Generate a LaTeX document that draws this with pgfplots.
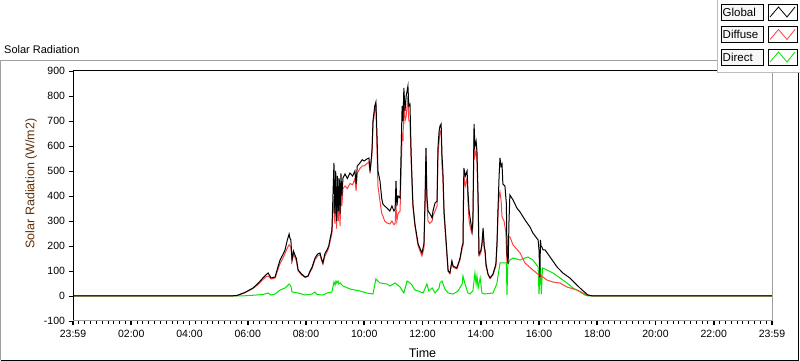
\documentclass[border=0pt]{standalone}
\usepackage{fontspec}
\setmainfont{Liberation Sans}
\usepackage{pgfplots}
\pgfplotsset{compat=1.18}
\definecolor{glob}{RGB}{0,0,0}
\definecolor{diff}{RGB}{255,64,64}
\definecolor{dirc}{RGB}{0,230,0}
\definecolor{framegray}{RGB}{160,160,160}
\definecolor{ylab}{RGB}{96,48,10}
\begin{document}
\begin{tikzpicture}[x=1pt,y=1pt]
\path[use as bounding box] (0,0) rectangle (800,361);
% outer frame
\draw[framegray, line width=1pt] (0.5,0.5) -- (0.5,300) -- (717,300);
\draw[black, line width=1pt] (0.5,0.5) -- (798.5,0.5) -- (798.5,289);
\node[anchor=west, font=\fontsize{11}{13}\selectfont, inner sep=0pt] at (4,311) {Solar Radiation};
\begin{axis}[
  at={(73pt,40pt)}, anchor=south west, scale only axis,
  width=699pt, height=250pt,
  xmin=0, xmax=24, ymin=-100, ymax=900,
  xtick={0,2,4,6,8,10,12,14,16,18,20,22,24},
  xticklabels={23:59,02:00,04:00,06:00,08:00,10:00,12:00,14:00,16:00,18:00,20:00,22:00,23:59},
  minor x tick num=9,
  ytick={-100,0,100,200,300,400,500,600,700,800,900},
  axis line style={draw=none},
  xtick pos=left, ytick pos=left,
  tick align=outside,
  major tick length=4.5pt, minor tick length=3pt,
  major x tick style={line width=1.6pt, black},
  minor x tick style={line width=0.9pt, black},
  major y tick style={line width=0.9pt, black},
  /pgf/number format/assume math mode=true,
  tick label style={font=\fontsize{10.5}{12}\selectfont, black},
  xticklabel style={yshift=-1.5pt},
  xlabel={Time}, ylabel={Solar Radiation (W/m2)},
  xlabel style={font=\fontsize{12.5}{14}\selectfont, at={(axis description cs:0.5,-0.128)}, anchor=center},
  ylabel style={font=\fontsize{12.5}{14}\selectfont, color=ylab, at={(axis description cs:-0.060,0.55)}, anchor=center},
  clip=false,
]
\addplot[dirc, line width=1pt] table {
0 0
5.63 0
5.90 1
6.18 3
6.52 6
6.70 12
6.80 4
6.94 8
7.11 24
7.28 32
7.42 48
7.48 40
7.52 16
7.73 12
7.97 4
8.21 8
8.31 16
8.38 6
8.58 4
8.72 12
8.89 16
8.96 56
9.00 44
9.03 60
9.06 52
9.10 60
9.13 48
9.17 52
9.27 40
9.51 28
9.85 20
10.09 12
10.30 8
10.40 68
10.54 52
10.78 48
10.88 40
11.06 52
11.23 36
11.36 12
11.47 60
11.61 48
11.74 24
11.85 20
12.02 12
12.08 28
12.15 48
12.22 20
12.33 32
12.43 12
12.57 32
12.60 52
12.67 60
12.77 28
12.88 12
13.05 8
13.22 20
13.36 48
13.39 80
13.46 48
13.56 12
13.63 8
13.73 20
13.80 92
13.84 48
13.87 80
13.91 32
13.98 72
14.04 12
14.15 8
14.42 12
14.55 48
14.62 100
14.66 132
14.76 132
14.88 132
14.90 4
14.93 128
15.00 144
15.11 152
15.35 144
15.52 152
15.62 156
15.79 144
15.97 116
16.00 8
16.05 112
16.08 8
16.12 112
16.27 104
16.48 92
16.72 72
16.96 52
17.17 32
17.41 16
17.58 4
17.68 0
24 0
};
\addplot[diff, line width=1pt] table {
0 0
5.39 0
5.63 2
5.90 13
6.18 30
6.35 46
6.52 66
6.62 76
6.70 80
6.80 68
6.94 72
7.02 100
7.11 130
7.20 150
7.28 170
7.35 190
7.42 205
7.48 195
7.52 140
7.57 165
7.62 155
7.67 140
7.73 100
7.85 84
7.97 74
8.07 78
8.14 96
8.21 110
8.31 145
8.40 160
8.48 165
8.53 144
8.58 128
8.65 160
8.72 176
8.78 192
8.82 215
8.89 250
8.93 340
8.96 400
8.99 290
9.02 440
9.05 270
9.08 420
9.11 300
9.14 400
9.17 280
9.20 420
9.23 360
9.27 430
9.34 440
9.42 430
9.51 450
9.60 445
9.68 470
9.72 420
9.76 490
9.85 510
9.93 520
10.00 520
10.09 530
10.16 535
10.20 490
10.25 550
10.27 580
10.30 690
10.36 740
10.40 760
10.44 580
10.47 440
10.54 380
10.60 330
10.64 320
10.70 300
10.78 292
10.88 288
10.95 300
11.02 285
11.06 290
11.09 360
11.12 300
11.16 330
11.23 340
11.27 520
11.30 640
11.33 620
11.36 780
11.40 700
11.44 720
11.47 760
11.50 800
11.53 700
11.57 700
11.61 540
11.67 360
11.74 280
11.85 200
11.98 160
12.05 190
12.09 380
12.12 560
12.15 380
12.19 300
12.25 290
12.33 300
12.36 320
12.43 340
12.50 360
12.53 560
12.57 620
12.60 660
12.64 660
12.67 520
12.70 470
12.74 320
12.81 210
12.88 100
12.94 90
13.01 135
13.05 115
13.18 108
13.29 145
13.36 190
13.39 200
13.42 480
13.47 440
13.53 470
13.56 380
13.60 300
13.65 270
13.70 250
13.73 280
13.77 640
13.80 560
13.84 580
13.87 540
13.91 360
13.94 160
14.00 170
14.04 200
14.08 250
14.12 190
14.15 170
14.18 120
14.25 85
14.32 70
14.42 85
14.52 120
14.56 200
14.59 320
14.63 400
14.66 416
14.70 380
14.73 316
14.80 300
14.86 256
14.90 132
14.94 236
15.00 236
15.11 204
15.35 172
15.52 132
15.79 104
16.00 84
16.03 70
16.05 84
16.27 64
16.48 56
16.72 52
16.96 36
17.30 24
17.65 4
17.85 0
24 0
};
\addplot[glob, line width=1pt] table {
0 0
5.39 0
5.63 2
5.90 14
6.18 32
6.35 50
6.52 72
6.62 84
6.70 92
6.80 72
6.94 76
7.02 110
7.11 144
7.20 164
7.28 184
7.35 220
7.42 248
7.45 230
7.48 224
7.52 144
7.57 180
7.62 164
7.67 150
7.73 104
7.85 88
7.97 76
8.07 80
8.14 100
8.21 116
8.31 152
8.40 168
8.48 172
8.53 150
8.58 132
8.65 170
8.72 184
8.78 200
8.82 224
8.89 264
8.93 420
8.96 532
8.99 330
9.02 500
9.05 300
9.08 480
9.11 340
9.14 470
9.17 330
9.20 490
9.23 400
9.27 472
9.34 488
9.42 470
9.51 492
9.60 480
9.68 500
9.72 448
9.76 520
9.85 532
9.93 545
10.00 540
10.09 548
10.16 552
10.20 500
10.25 560
10.27 592
10.30 700
10.36 760
10.40 776
10.44 632
10.47 500
10.54 460
10.60 390
10.64 368
10.70 360
10.78 352
10.88 340
10.95 360
11.02 340
11.06 348
11.09 460
11.12 360
11.16 400
11.23 392
11.27 600
11.30 760
11.33 700
11.36 832
11.40 740
11.44 800
11.47 820
11.50 840
11.53 760
11.57 768
11.61 568
11.67 368
11.74 288
11.85 208
11.98 172
12.05 208
12.09 400
12.12 592
12.15 400
12.19 340
12.25 330
12.33 312
12.36 340
12.43 372
12.50 380
12.53 592
12.57 660
12.60 680
12.64 688
12.67 560
12.70 500
12.74 340
12.81 220
12.88 100
12.94 92
13.01 140
13.05 120
13.18 112
13.29 152
13.36 200
13.39 208
13.42 512
13.47 480
13.53 500
13.56 420
13.60 340
13.65 300
13.70 260
13.73 300
13.77 688
13.80 600
13.84 620
13.87 580
13.91 392
13.94 168
14.00 180
14.04 208
14.08 272
14.12 200
14.15 180
14.18 128
14.25 88
14.32 72
14.42 88
14.52 128
14.56 220
14.59 340
14.63 480
14.66 552
14.70 520
14.73 528
14.76 448
14.83 440
14.88 368
14.90 168
14.94 128
14.97 300
15.00 404
15.11 384
15.24 352
15.35 336
15.52 304
15.69 276
15.79 252
15.97 224
16.00 184
16.03 76
16.05 224
16.07 200
16.10 196
16.14 184
16.21 184
16.38 156
16.62 116
16.82 92
17.06 72
17.30 44
17.48 24
17.68 4
17.85 0
24 0
};
\draw[black, line width=1pt] (rel axis cs:0,0) -- (rel axis cs:0,1) -- (rel axis cs:1,1);
\draw[framegray, line width=1pt] (rel axis cs:1,1) -- (rel axis cs:1,0) -- (rel axis cs:0,0);
\end{axis}
% legend panel
\fill[white] (717,289) rectangle (800,361);
\draw[framegray!70, line width=0.8pt] (717,361) -- (717,289) -- (800,289);
\foreach \i/\name/\col in {0/Global/glob,1/Diffuse/diff,2/Direct/dirc}{
  \pgfmathsetmacro{\yt}{357-22.5*\i}
  \pgfmathsetmacro{\yb}{\yt-16}
  \pgfmathsetmacro{\ym}{\yt-8}
  \draw[black, fill=gray!6, line width=0.8pt] (721,\yb) rectangle (763,\yt);
  \node[anchor=west, inner sep=0pt, font=\fontsize{11.5}{13}\selectfont] at (722.5,\ym) {\name};
  \draw[black, fill=white, line width=0.8pt] (768,\yb) rectangle (797,\yt);
  \draw[\col, line width=0.8pt] (770,\yb+3) -- (778.5,\yt-3) -- (787,\yb+3) -- (795,\yt-3);
}
\end{tikzpicture}
\end{document}
